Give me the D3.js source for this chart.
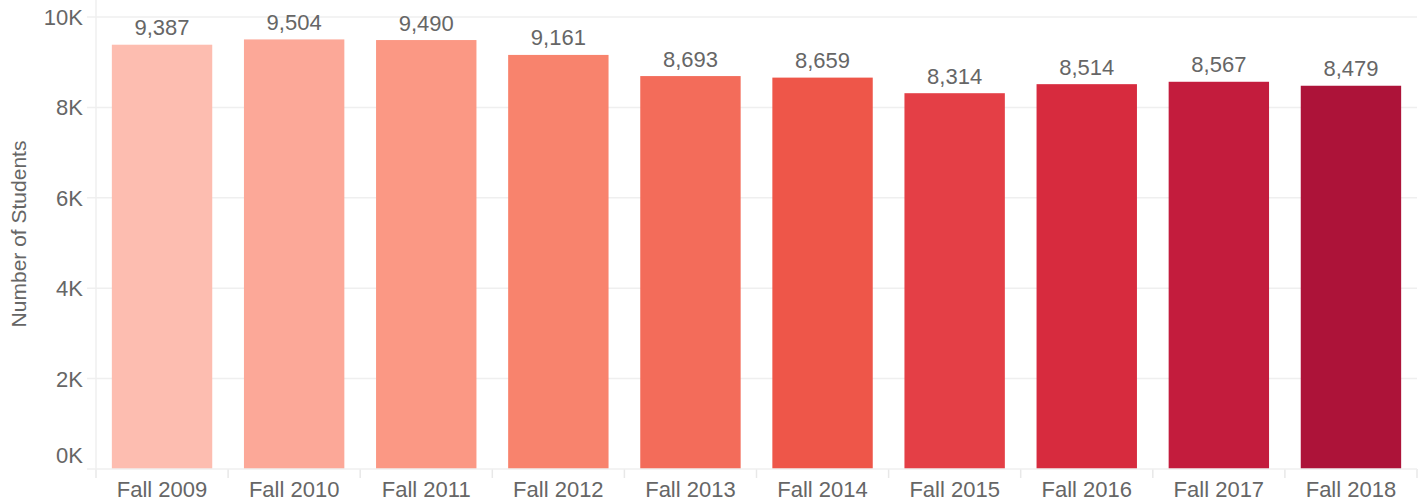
<!DOCTYPE html>
<html><head><meta charset="utf-8">
<script src="https://cdn.jsdelivr.net/npm/d3@7"></script>
<style>body{margin:0;background:#fff}svg text{font-family:"Liberation Sans",Arial,sans-serif}</style>
</head><body>
<svg id="c" width="1421" height="502"></svg>
<script>
const categories = ["Fall 2009","Fall 2010","Fall 2011","Fall 2012","Fall 2013","Fall 2014","Fall 2015","Fall 2016","Fall 2017","Fall 2018"];
const students = [9387,9504,9490,9161,8693,8659,8314,8514,8567,8479];
const barColors = ["#fdbdb0","#fca898","#fb9884","#f8836d","#f36c5a","#ee5649","#e43f46","#d72b3e","#c31c3d","#ad1339"];
const yTicks = [0,2000,4000,6000,8000,10000];
const yTickLabels = ["0K","2K","4K","6K","8K","10K"];

(function(){
const svg = d3.select("#c");
const mLeft = 96, mRight = 1417, mTop = 17, mBottom = 469;
const x = d3.scaleBand().domain(categories).range([mLeft, mRight]).paddingInner(0.24).paddingOuter(0.12);
const y = d3.scaleLinear().domain([0, 10000]).range([mBottom, mTop]);

svg.append("g").selectAll("line").data(yTicks.slice(1)).join("line")
  .attr("x1", 87).attr("x2", mRight).attr("y1", d => y(d)).attr("y2", d => y(d))
  .attr("stroke", "#efefef").attr("stroke-width", 1.5);
svg.append("line").attr("x1", mLeft).attr("x2", mLeft).attr("y1", 0).attr("y2", mBottom)
  .attr("stroke", "#efefef").attr("stroke-width", 1.5);
const step = x.step();
svg.append("g").selectAll("line").data(d3.range(categories.length + 1)).join("line")
  .attr("x1", i => mLeft + i * step).attr("x2", i => mLeft + i * step)
  .attr("y1", mBottom).attr("y2", mBottom + 9)
  .attr("stroke", "#e8e8e8").attr("stroke-width", 1.5);

svg.append("g").selectAll("rect").data(categories).join("rect")
  .attr("x", d => x(d)).attr("width", x.bandwidth())
  .attr("y", (d, i) => y(students[i])).attr("height", (d, i) => y(0) - y(students[i]))
  .attr("fill", (d, i) => barColors[i]);

svg.append("line").attr("x1", 87).attr("x2", mRight).attr("y1", mBottom).attr("y2", mBottom)
  .attr("stroke", "#efefef").attr("stroke-width", 1.5);

svg.append("g").selectAll("text").data(categories).join("text")
  .attr("x", d => x(d) + x.bandwidth() / 2).attr("y", (d, i) => y(students[i]) - 9.5)
  .attr("text-anchor", "middle").attr("font-size", 22).attr("fill", "#666")
  .text((d, i) => d3.format(",")(students[i]));

svg.append("g").selectAll("text").data(yTicks).join("text")
  .attr("x", 83).attr("y", d => y(d) + 8 - (d === 0 ? 14 : 0)).attr("text-anchor", "end")
  .attr("font-size", 22).attr("fill", "#666")
  .text((d, i) => yTickLabels[i]);

const xAxis = d3.axisBottom(x).tickSize(0).tickPadding(0);
const gx = svg.append("g").attr("transform", `translate(0,${mBottom})`).call(xAxis);
gx.select(".domain").remove();
gx.selectAll("text").attr("font-size", 22).attr("fill", "#666").attr("dy", null).attr("y", 28)
  .style("font-family", '"Liberation Sans",Arial,sans-serif');

svg.append("text").attr("transform", "translate(26,234) rotate(-90)")
  .attr("text-anchor", "middle").attr("font-size", 21).attr("fill", "#666")
  .text("Number of Students");
})();
</script>
</body></html>
